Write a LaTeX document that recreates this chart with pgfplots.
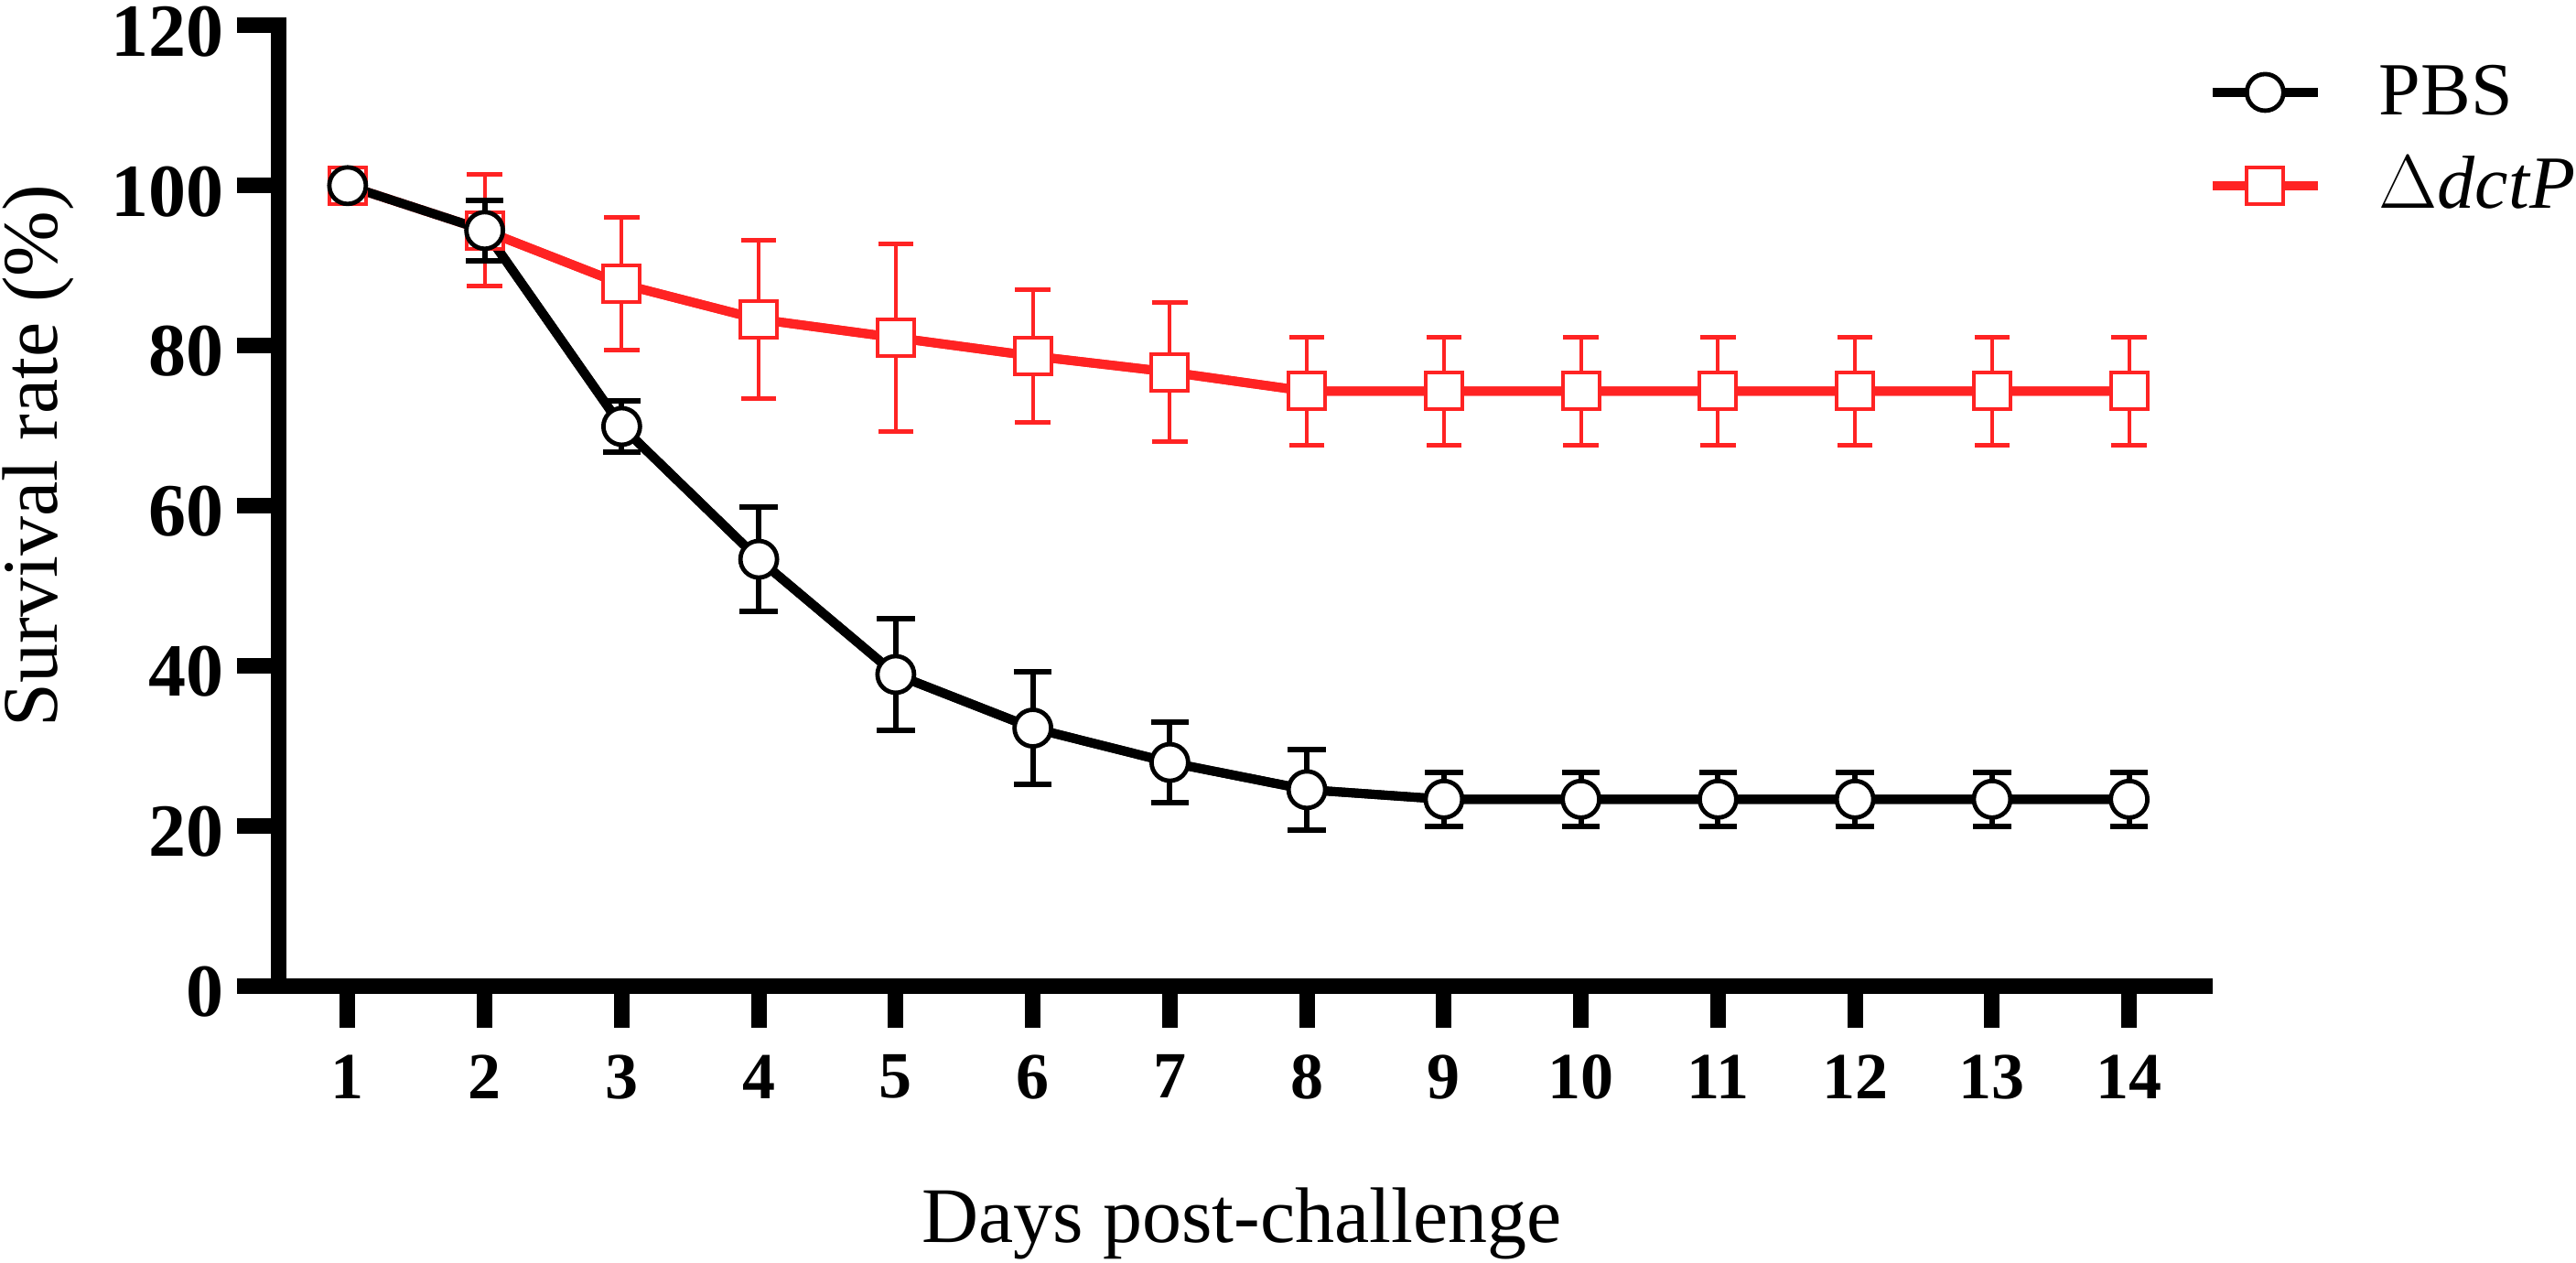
\documentclass[border=0pt]{standalone}
\usepackage{pgfplots}
\pgfplotsset{compat=1.18}
\usepackage{fontspec}
\setmainfont{Liberation Serif}
\definecolor{myred}{RGB}{255,35,35}

\pgfplotstableread{
day pbs pbserr dct dcterr
1 100  0   100  0
2 94.4 3.8 94.4 7.0
3 69.9 3.2 87.7 8.3
4 53.3 6.5 83.3 9.9
5 38.9 7.0 81.0 11.7
6 32.2 7.0 78.7 8.3
7 27.9 5.0 76.7 8.7
8 24.5 5.0 74.3 6.8
9 23.3 3.4 74.3 6.8
10 23.3 3.4 74.3 6.8
11 23.3 3.4 74.3 6.8
12 23.3 3.4 74.3 6.8
13 23.3 3.4 74.3 6.8
14 23.3 3.4 74.3 6.8
}\datatable

\pgfplotstableread{
day pbs pbserr dct dcterr
2 94.4 3.8 94.4 7.0
3 69.9 3.2 87.7 8.3
4 53.3 6.5 83.3 9.9
5 38.9 7.0 81.0 11.7
6 32.2 7.0 78.7 8.3
7 27.9 5.0 76.7 8.7
8 24.5 5.0 74.3 6.8
9 23.3 3.4 74.3 6.8
10 23.3 3.4 74.3 6.8
11 23.3 3.4 74.3 6.8
12 23.3 3.4 74.3 6.8
13 23.3 3.4 74.3 6.8
14 23.3 3.4 74.3 6.8
}\errtable

\begin{document}
\begin{tikzpicture}
\begin{axis}[
  scale only axis, width=526pt, height=262.25pt,
  xmin=0.5, xmax=14.55, ymin=0, ymax=120,
  clip=false,
  axis x line*=bottom, axis y line*=left,
  axis line style={line width=4.25pt, line cap=rect, black},
  xtick={1,...,14}, ytick={0,20,...,120},
  tick align=outside, major tick length=11.5pt,
  tick style={line width=4.25pt, black},
  /pgf/number format/assume math mode=true,
  xticklabel style={font=\fontsize{18}{20}\selectfont\bfseries, inner sep=0pt, yshift=-7.25pt},
  yticklabel style={font=\fontsize{20.5}{24}\selectfont\bfseries, inner sep=0pt, xshift=-3.5pt, yshift=-1.6pt},
  xlabel={Days post-challenge},
  ylabel={Survival rate (\%)},
  every axis x label/.style={at={([yshift=-70pt]axis description cs:0.5,0)}, anchor=base, font=\fontsize{21.5}{24}\selectfont},
  every axis y label/.style={at={([xshift=-60.5pt]axis description cs:0,0.552)}, rotate=90, anchor=base, font=\fontsize{21.5}{24}\selectfont},
  legend style={draw=none, fill=none, at={(rel axis cs:1,1)}, anchor=north west, xshift=0.75pt, yshift=-10.5pt,
    inner sep=0pt, font=\fontsize{20.5}{24}\selectfont, row sep=10pt, nodes={inner sep=0pt},
    /tikz/every odd column/.append style={column sep=15.5pt}},
  legend cell align=left,
  legend image code/.code={\draw[mark repeat=2, mark phase=2, #1] plot coordinates {(0pt,0pt) (14.375pt,0pt) (28.75pt,0pt)};},
]
% red line + error bars
\addplot[forget plot, myred, line width=2.5pt, mark=none,
  error bars/.cd, y dir=both, y explicit,
  error bar style={line width=1pt, myred},
  error mark options={rotate=90, line width=1.25pt, mark size=4.8pt, myred}]
  table[x=day, y=dct, y error=dcterr] {\errtable};
\addplot[forget plot, myred, line width=2.5pt, mark=none] table[x=day, y=dct] {\datatable};
% black line + error bars
\addplot[forget plot, black, line width=2.5pt, mark=none,
  error bars/.cd, y dir=both, y explicit,
  error bar style={line width=1.5pt, black},
  error mark options={rotate=90, line width=1.5pt, mark size=5.2pt, black}]
  table[x=day, y=pbs, y error=pbserr] {\errtable};
\addplot[forget plot, black, line width=2.5pt, mark=none] table[x=day, y=pbs] {\datatable};
% marks
\addplot[forget plot, only marks, mark=square*, mark size=5pt, mark options={draw=myred, fill=white, line width=1pt}]
  table[x=day, y=dct] {\datatable};
\addplot[forget plot, only marks, mark=*, mark size=5pt, mark options={draw=black, fill=white, line width=1.2pt}]
  table[x=day, y=pbs] {\datatable};
\addlegendimage{black, line width=2.5pt, mark=*, mark size=5pt, mark options={draw=black, fill=white, line width=1.2pt}}
\addlegendentry{PBS}
\addlegendimage{myred, line width=2.5pt, mark=square*, mark size=5pt, mark options={draw=myred, fill=white, line width=1pt}}
\addlegendentry{$\Delta$\textit{dctP}}
\end{axis}
\pgfresetboundingbox
\path (-76.25pt,-75.75pt) rectangle (627.5pt,269.25pt);
\end{tikzpicture}
\end{document}
